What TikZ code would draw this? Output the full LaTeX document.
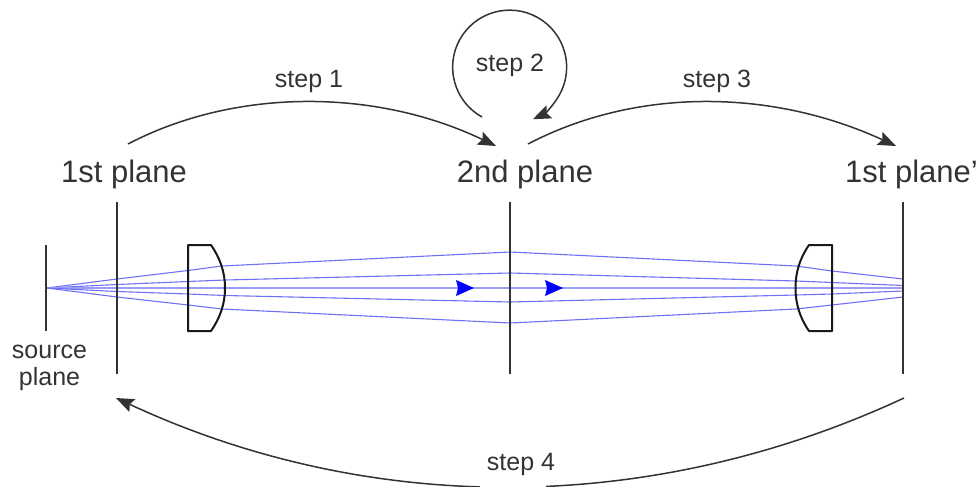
\documentclass[tikz,border=0pt]{standalone}
\usepackage{fontspec}
\setmainfont{Liberation Sans}
\usetikzlibrary{arrows.meta}
\definecolor{ink}{HTML}{333333}
\definecolor{rayc}{HTML}{7070F5}
\tikzset{
  big/.style={text=ink,font=\fontsize{31}{34}\selectfont,inner sep=0pt,anchor=base},
  small/.style={text=ink,font=\fontsize{25}{28}\selectfont,inner sep=0pt,anchor=base},
  plane/.style={draw=ink,line width=1.8pt},
  lens/.style={draw=black!90,line width=2pt,line join=round},
  ray/.style={draw=rayc,line width=1.1pt},
  flow/.style={draw=ink,line width=1.5pt,-{Stealth[length=18pt,width=14pt,inset=3pt]}},
  dirtip/.style={fill=blue,draw=none}
}
\begin{document}
\begin{tikzpicture}[x=1pt,y=-1pt]
\useasboundingbox (0,0) rectangle (977,487);
% planes
\coordinate (s0) at (46,245); \coordinate (s1) at (46,331);
\coordinate (a0) at (117,202); \coordinate (a1) at (117,374);
\coordinate (b0) at (510,202); \coordinate (b1) at (510,374);
\coordinate (c0) at (903,202); \coordinate (c1) at (903,374);
% rays
\coordinate (src) at (47,288);
\draw[ray] (src) -- (117,279) -- (188,270.5) -- (222,266) -- (510,252) -- (796,266) -- (832,271) -- (903,279);
\draw[ray] (src) -- (117,284.5) -- (188,281.5) -- (225,280) -- (510,273) -- (796,281) -- (832,282.5) -- (903,285.5);
\draw[ray,draw=rayc!70] (src) -- (903,288);
\draw[ray] (src) -- (117,291.5) -- (188,294) -- (225,295.5) -- (510,302) -- (796,295) -- (832,294) -- (903,291);
\draw[ray] (src) -- (117,297) -- (188,305) -- (222,309) -- (510,323) -- (796,309) -- (832,305) -- (903,297);
\draw[plane] (s0) -- (s1);
\draw[plane] (a0) -- (a1);
\draw[plane] (b0) -- (b1);
\draw[plane] (c0) -- (c1);
% lenses
\draw[lens] (211,245) -- (188,245) -- (188,331) -- (211,331) .. controls (220,318) and (225,304) .. (225,288) .. controls (225,272) and (220,258) .. (211,245) -- cycle;
\draw[lens] (809,245) -- (832,245) -- (832,331) -- (809,331) .. controls (800,318) and (795.5,304) .. (795.5,288) .. controls (795.5,272) and (800,258) .. (809,245) -- cycle;
% direction marks
\fill[dirtip] (456,280) -- (474,288) -- (456,296) -- (458,288) -- cycle;
\fill[dirtip] (545,280) -- (563,288) -- (545,296) -- (547,288) -- cycle;
% connectors
\coordinate (f1) at (128,144); \coordinate (e1) at (496,146);
\coordinate (f3) at (528,144); \coordinate (e3) at (896,146);
\coordinate (f4) at (904,398); \coordinate (e4) at (116,398);
\coordinate (f2) at (482,117);
\draw[flow] (f1) .. controls (235,88) and (375,88) .. (e1);
\draw[flow] (f3) .. controls (635,88) and (770,88) .. (e3);
\draw[flow] (f4) .. controls (650,516) and (370,516) .. (e4);
\draw[flow] (f2) arc[start angle=241,end angle=-66,radius=57pt];
\fill[white] (480,476) rectangle (546,487);
% labels
\node[big] (l1) at (124,182) {1st plane};
\node[big] (l2) at (525,182) {2nd plane};
\node[big] (l3) at (911.5,182) {1st plane'};
\node[small] (t1) at (309,87) {step 1};
\node[small] (t2) at (510,72) {step 2};
\node[small] (t3) at (717,87) {step 3};
\node[small] (t4) at (521,470) {step 4};
\node[small] (p1) at (49.5,358) {source};
\node[small] (p2) at (49.5,385) {plane};
\end{tikzpicture}
\end{document}
